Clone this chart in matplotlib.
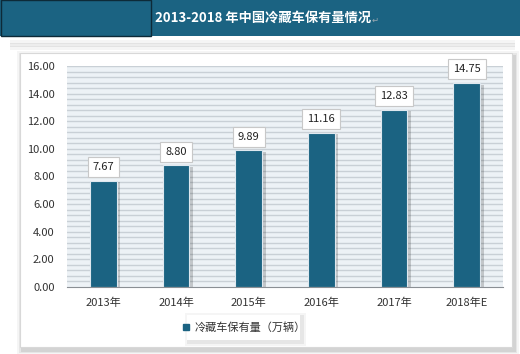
import numpy as np
import matplotlib
matplotlib.use('Agg')
import matplotlib.pyplot as plt
from matplotlib.patches import Rectangle

plt.rcParams['font.family'] = ['Noto Sans CJK SC', 'DejaVu Sans']

# 数据
years = ['2013年', '2014年', '2015年', '2016年', '2017年', '2018年E']
values = [7.67, 8.80, 9.89, 11.16, 12.83, 14.75]
series_name = '冷藏车保有量（万辆）'
title = '2013-2018 年中国冷藏车保有量情况'

W, H = 520, 354
fig = plt.figure(figsize=(W / 100, H / 100), dpi=100)
fig.patch.set_facecolor('white')

def px(x0, y0, w, h):
    # 像素坐标 -> figure 坐标
    return (x0 / W, 1 - (y0 + h) / H, w / W, h / H)

# 顶部标题栏
bar_color = '#1b6382'
x, y, w, h = px(0, 0, 520, 36)
fig.patches.append(Rectangle((x, y), w, h, transform=fig.transFigure,
                             facecolor=bar_color, edgecolor='none', zorder=0))
x, y, w, h = px(1, 0, 150, 36)
fig.patches.append(Rectangle((x, y), w, h, transform=fig.transFigure,
                             facecolor='none', edgecolor='#0d2a38', lw=1.0, zorder=1))
fig.text(155 / W, 1 - 18 / H, title, color='white', fontsize=9.5, fontweight='bold',
         va='center', ha='left')
fig.text(372 / W, 1 - 20 / H, '↵', color='#9aa7b0', fontsize=6, va='center',
         ha='left', family='DejaVu Sans')

# 标题栏下方阴影
for i, a in enumerate([0.04, 0.07, 0.04]):
    x, y, w, h = px(10, 40 + i * 3, 505, 4)
    fig.patches.append(Rectangle((x, y), w, h, transform=fig.transFigure,
                                 facecolor='#000000', alpha=a, edgecolor='none', zorder=0))

# 白色面板及阴影
for off, a in [(5, 0.04), (3, 0.06), (1.5, 0.08)]:
    x, y, w, h = px(20 - off + 2, 53 - off + 3, 492 + 2 * off, 294 + 2 * off)
    fig.patches.append(Rectangle((x, y), w, h, transform=fig.transFigure,
                                 facecolor='#000000', alpha=a, edgecolor='none', zorder=0))
x, y, w, h = px(20, 53, 492, 294)
fig.patches.append(Rectangle((x, y), w, h, transform=fig.transFigure,
                             facecolor='white', edgecolor='#d8d8d8', lw=0.8, zorder=0.5))

# 绘图区
ax = fig.add_axes(px(67, 66, 436, 221))
ax.set_zorder(2)
ax.set_facecolor('#edf2f6')
ax.set_ylim(0, 16)
ax.set_xlim(-0.5, len(years) - 0.5)
for yy in np.arange(0.4, 16.01, 0.4):
    ax.axhline(yy, color='#c9d0d6', lw=1.0, zorder=0.5)

xs = np.arange(len(years))
# 柱子阴影
ax.bar(xs + 0.05, np.array(values) - 0.1, width=0.37, color='#000000', alpha=0.18,
       zorder=1.5)
ax.bar(xs, values, width=0.37, color=bar_color, edgecolor='#dfe8ef', lw=0.8,
       zorder=2, label=series_name)

for xi, v in zip(xs, values):
    ax.annotate(f'{v:.2f}', (xi, v), xytext=(0, 10), textcoords='offset points',
                ha='center', va='center', fontsize=8, color='#222222', zorder=4,
                bbox=dict(boxstyle='square,pad=0.45', facecolor='white',
                          edgecolor='#c8c8c8', lw=0.8))

ax.set_yticks(np.arange(0, 16.01, 2))
ax.set_yticklabels([f'{t:.2f}' for t in np.arange(0, 16.01, 2)])
ax.set_xticks(xs)
ax.set_xticklabels(years)
ax.tick_params(axis='both', length=0, labelsize=8, colors='#333333')
ax.tick_params(axis='y', pad=9)
ax.tick_params(axis='x', pad=8)
for s in ['top', 'right', 'left']:
    ax.spines[s].set_visible(False)
ax.spines['bottom'].set_color('#8a8f94')
ax.spines['bottom'].set_zorder(3)

# 图例
for off, a in [(4, 0.04), (2, 0.06)]:
    x, y, w, h = px(187 - off + 2, 315 - off + 2, 113 + 2 * off, 25 + 2 * off)
    fig.patches.append(Rectangle((x, y), w, h, transform=fig.transFigure,
                                 facecolor='#000000', alpha=a, edgecolor='none', zorder=0.6))
x, y, w, h = px(187, 315, 113, 25)
fig.patches.append(Rectangle((x, y), w, h, transform=fig.transFigure,
                             facecolor='white', edgecolor='none', zorder=0.7))
leg = fig.legend(handles=[plt.Line2D([], [], marker='s', color=bar_color, lw=0,
                                     markersize=4.5)],
                 labels=[series_name], loc='center', bbox_to_anchor=(243.5 / W, 1 - 327.5 / H),
                 frameon=False, fontsize=8, handlelength=0.8, handletextpad=0.4)
for t in leg.get_texts():
    t.set_color('#333333')

fig.savefig('out.png', dpi=100)
